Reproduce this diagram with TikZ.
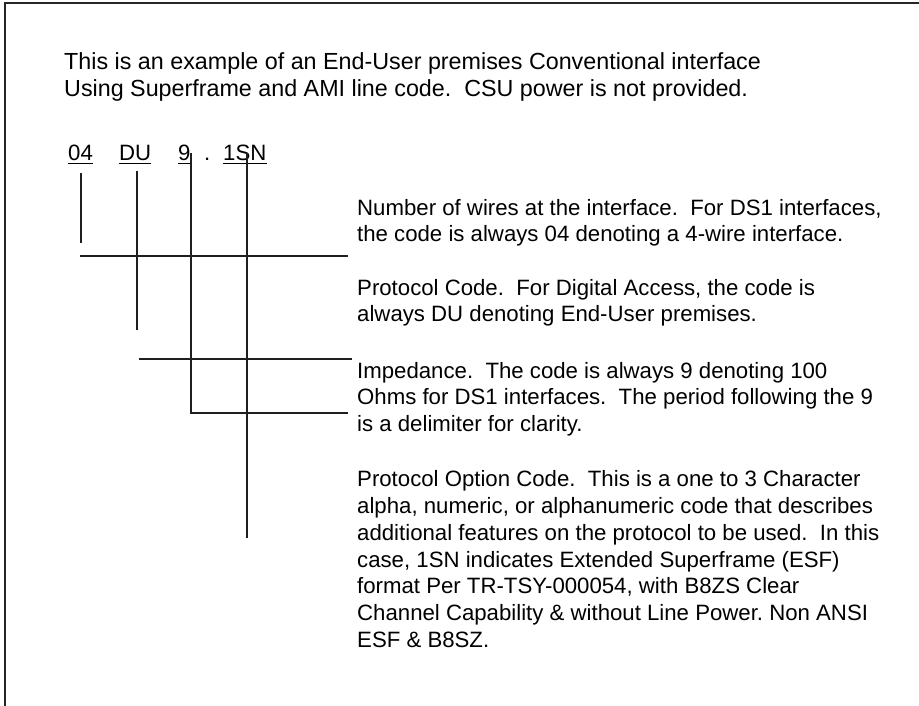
\documentclass[tikz,border=0pt]{standalone}
\usepackage{fontspec}
\setmainfont{Liberation Sans}
\usetikzlibrary{calc}
\begin{document}
\frenchspacing
\begin{tikzpicture}[x=1pt,y=-1pt,
  txt/.style={inner sep=0pt, anchor=base west, align=left, font=\fontsize{22.2}{26.8}\selectfont\frenchspacing, text=black},
  head/.style={txt, font=\fontsize{23.3}{26.8}\selectfont\frenchspacing},
  lead/.style={line width=1.1pt, draw=black!88},
  frameline/.style={line width=1.7pt, draw=black!85},
  uline/.style={line width=1.2pt, draw=black}]
\useasboundingbox (0,0) rectangle (919,706);
% frame
\coordinate (fbl) at (5,706);
\coordinate (ftl) at (5,3);
\coordinate (ftr) at (919,3);
\draw[frameline] (fbl) -- (ftl) -- (ftr);
% header (anchor = baseline of last line)
\node[head] (hdr) at (64,96.8) {This is an example of an End-User premises Conventional interface\\Using Superframe and AMI line code.~ CSU power is not provided.};
% code line
\node[txt] (c04) at (68,160.7) {04};
\node[txt] (cdu) at (119,160.7) {DU};
\node[txt] (c9) at (178,160.7) {9};
\node[txt] (cdot) at (204,160.7) {.};
\node[txt] (csn) at (223,160.7) {1SN};
\foreach \n in {c04,cdu,c9,csn}{
  \draw[uline] ($(\n.base west)+(0,3)$) -- ($(\n.base east)+(0,3)$);
}
% explanation blocks (anchor = baseline of last line)
\node[txt] (b1) at (357,241.8) {Number of wires at the interface.~ For DS1 interfaces,\\the code is always 04 denoting a 4-wire interface.};
\node[txt] (b2) at (357,321.8) {Protocol Code.~ For Digital Access, the code is\\always DU denoting End-User premises.};
\node[txt] (b3) at (357,431.6) {Impedance.~ The code is always 9 denoting 100\\Ohms for DS1 interfaces.~ The period following the 9\\is a delimiter for clarity.};
\node[txt] (b4) at (357,647.5) {Protocol Option Code.~ This is a one to 3 Character\\alpha, numeric, or alphanumeric code that describes\\additional features on the protocol to be used.~ In this\\case, 1SN indicates Extended Superframe (ESF)\\format Per TR-TSY-000054, with B8ZS Clear\\Channel Capability \& without Line Power. Non ANSI\\ESF \& B8SZ.};
% leader lines
\coordinate (a1) at (81,173);  \coordinate (a2) at (81,243);
\coordinate (h1a) at (80,256); \coordinate (h1b) at (348,256);
\coordinate (bb1) at (137,171); \coordinate (bb2) at (137,330);
\coordinate (h2a) at (139,359); \coordinate (h2b) at (352,359);
\coordinate (cc1) at (191,153); \coordinate (cc2) at (191,413); \coordinate (cc3) at (348,413);
\coordinate (d1) at (247,153); \coordinate (d2) at (247,538);
\draw[lead] (a1) -- (a2);
\draw[lead] (h1a) -- (h1b);
\draw[lead] (bb1) -- (bb2);
\draw[lead] (h2a) -- (h2b);
\draw[lead] (cc1) -- (cc2) -- (cc3);
\draw[lead] (d1) -- (d2);
\end{tikzpicture}
\end{document}
